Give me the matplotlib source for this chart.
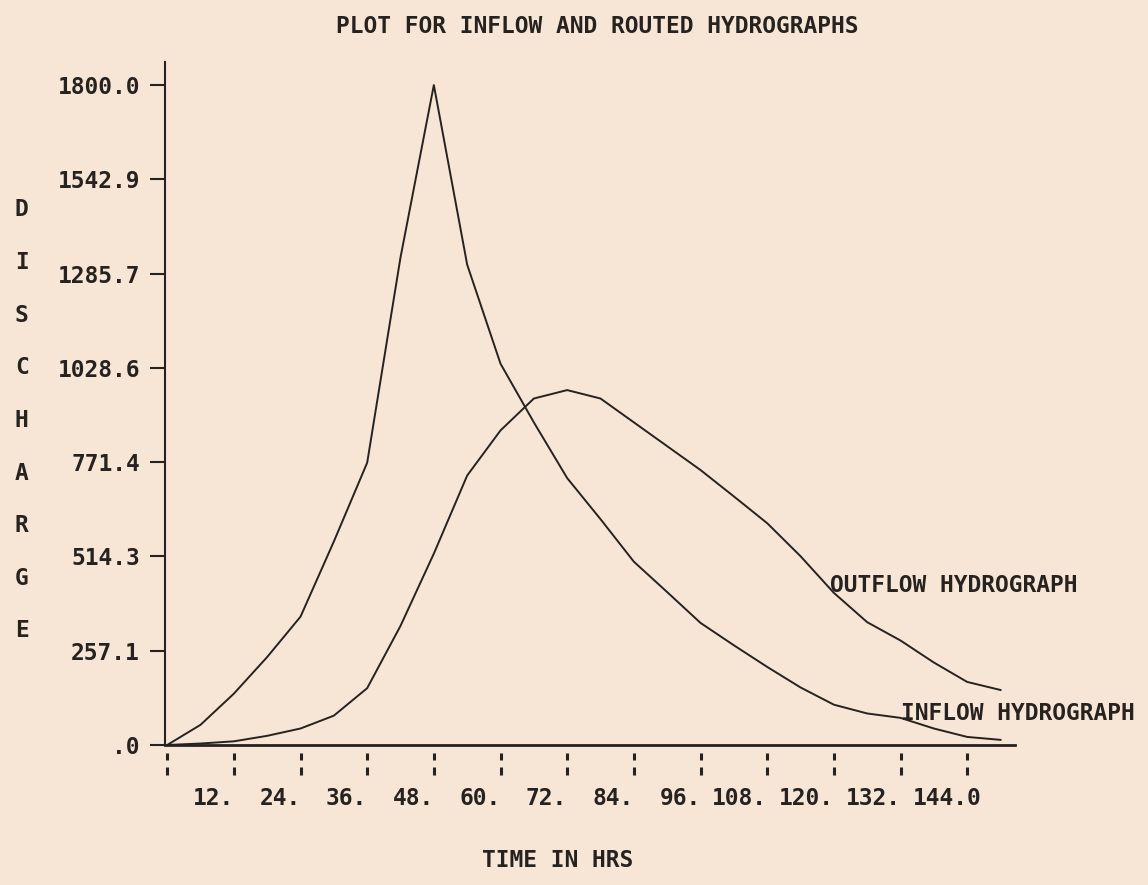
import numpy as np
import matplotlib
matplotlib.use("Agg")
import matplotlib.pyplot as plt
from matplotlib.transforms import ScaledTranslation

# time in hrs, 6 hr steps
time_hrs = [0, 6, 12, 18, 24, 30, 36, 42, 48, 54, 60, 66, 72, 78, 84, 90,
            96, 102, 108, 114, 120, 126, 132, 138, 144, 150]

# sharp hydrograph (labelled INFLOW)
inflow = [0, 55, 140, 240, 350, 555, 770, 1330, 1800, 1310, 1040, 880, 728,
          616, 500, 417, 333, 272, 213, 157, 110, 86, 74, 45, 22, 14]

# routed hydrograph (labelled OUTFLOW)
outflow = [0, 4, 10, 25, 45, 80, 155, 325, 522, 735, 858, 945, 968, 945,
           880, 815, 750, 678, 605, 515, 415, 335, 285, 225, 172, 150]

x_ticks = [12, 24, 36, 48, 60, 72, 84, 96, 108, 120, 132, 144]
x_ticklabels = ["12.", "24.", "36.", "48.", "60.", "72.", "84.", "96.",
                "108.", "120.", "132.", "144.0"]
y_ticks = [1800 * k / 7 for k in range(8)]
y_ticklabels = [".0", "257.1", "514.3", "771.4", "1028.6", "1285.7",
                "1542.9", "1800.0"]

bg = "#f7e6d6"
ink = "#262220"
font = {"family": "DejaVu Sans Mono", "weight": "bold", "size": 16.5}

fig = plt.figure(figsize=(11.48, 8.85), dpi=100, facecolor=bg)
ax = fig.add_axes([0.1437, 0.1582, 0.7404, 0.7718], facecolor=bg)

ax.plot(time_hrs, inflow, color=ink, lw=1.4)
ax.plot(time_hrs, outflow, color=ink, lw=1.4)

ax.set_xlim(-0.4, 152.6)
ax.set_ylim(0, 1863)

# axes frame: only left and bottom
for side in ["top", "right"]:
    ax.spines[side].set_visible(False)
ax.spines["left"].set_linewidth(1.5)
ax.spines["bottom"].set_linewidth(2.0)
ax.spines["left"].set_color(ink)
ax.spines["bottom"].set_color(ink)

# y ticks
ax.set_yticks(y_ticks)
ax.set_yticklabels(y_ticklabels, fontdict=font, color=ink)
ax.tick_params(axis="y", direction="out", length=11, width=1.5, pad=7,
               colors=ink)

# x ticks: labels end at the tick, marks drawn as broken bars
ax.set_xticks(x_ticks)
ax.set_xticklabels(x_ticklabels, fontdict=font, color=ink)
ax.tick_params(axis="x", length=0, pad=30)
for lab in ax.get_xticklabels():
    lab.set_horizontalalignment("right")
    if lab.get_text() == "144.0":
        # the trailing digit sits past the tick
        lab.set_transform(lab.get_transform() +
                          ScaledTranslation(0.14, 0, fig.dpi_scale_trans))

mark_x = [0] + x_ticks
ax.vlines(mark_x, -22, -41, color=ink, lw=2.2, clip_on=False)
ax.vlines(mark_x, -60, -82, color=ink, lw=2.2, clip_on=False)

# curve labels
ax.text(119.3, 435, "OUTFLOW HYDROGRAPH", fontdict=font, color=ink,
        ha="left", va="center")
ax.text(132.0, 87, "INFLOW HYDROGRAPH", fontdict=font, color=ink,
        ha="left", va="center")

# titles
fig.text(0.520, 0.970, "PLOT FOR INFLOW AND ROUTED HYDROGRAPHS",
         fontdict=font, color=ink, ha="center", va="center")
fig.text(0.486, 0.028, "TIME IN HRS", fontdict=font, color=ink,
         ha="center", va="center")

for i, ch in enumerate("DISCHARGE"):
    fig.text(0.019, 1 - (210 + 52.6 * i) / 885, ch, fontdict=font,
             color=ink, ha="center", va="center")

fig.savefig("out.png", dpi=100, facecolor=bg)
